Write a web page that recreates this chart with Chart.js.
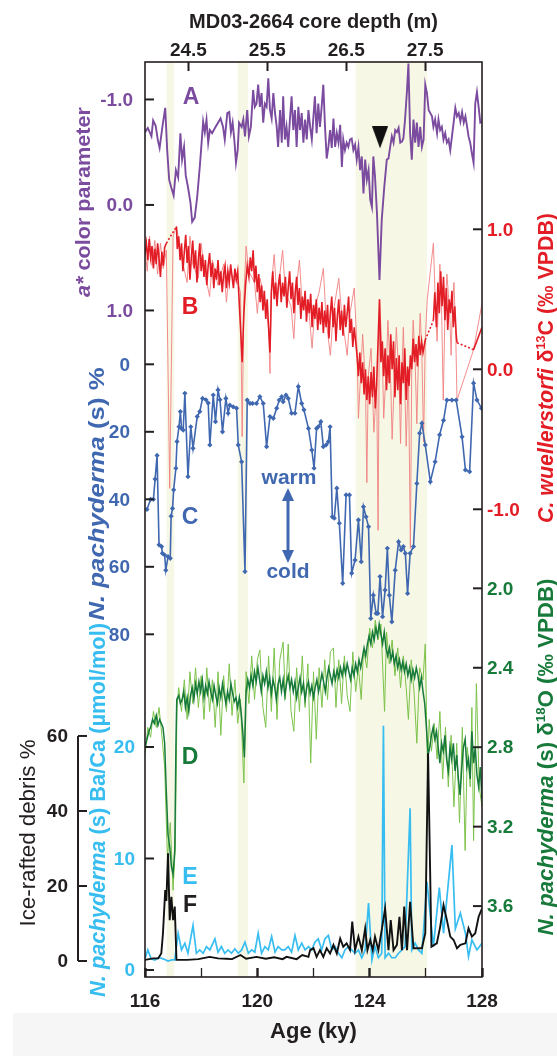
<!DOCTYPE html>
<html>
<head>
<meta charset="utf-8">
<script src="https://cdn.jsdelivr.net/npm/chart.js@4.4.1/dist/chart.umd.min.js"></script>
<style>
  html, body { margin: 0; padding: 0; background: #fff; }
  #wrap { width: 557px; height: 1056px; }
</style>
</head>
<body>
<div id="wrap"><canvas id="chart" width="557" height="1056"></canvas></div>
<script>
// ---- data: [age (ky), value] ----
const ageTicks = [116, 118, 120, 122, 124, 126, 128];
const depthTicks = [24.5, 25.5, 26.5, 27.5];
const bands = [[116.77, 117.04], [119.30, 119.66], [123.50, 126.04]];

// A: a* colour parameter
const colorA = [[116.00,-0.69],[116.10,-0.73],[116.23,-0.65],[116.29,-0.80],[116.38,-0.75],[116.46,-0.61],[116.52,-0.54],[116.62,-0.74],[116.72,-0.92],[116.79,-0.52],[116.86,-0.24],[116.94,-0.16],[117.02,-0.09],[117.10,-0.33],[117.18,-0.26],[117.26,-0.68],[117.32,-0.43],[117.39,-0.55],[117.45,-0.28],[117.53,-0.17],[117.62,-0.02],[117.68,0.16],[117.77,0.12],[117.86,-0.08],[117.95,-0.36],[118.01,-0.57],[118.07,-0.79],[118.13,-0.69],[118.19,-0.81],[118.25,-0.59],[118.31,-0.71],[118.39,-0.68],[118.49,-0.73],[118.60,-0.78],[118.69,-0.82],[118.78,-0.74],[118.84,-0.62],[118.93,-0.87],[119.00,-0.88],[119.06,-0.69],[119.12,-0.78],[119.18,-0.62],[119.24,-0.40],[119.30,-0.52],[119.35,-0.78],[119.44,-0.74],[119.50,-0.81],[119.56,-0.65],[119.64,-0.90],[119.70,-0.65],[119.77,-0.74],[119.85,-1.09],[119.91,-0.93],[119.97,-0.96],[120.03,-1.14],[120.09,-0.93],[120.15,-1.06],[120.21,-0.78],[120.27,-0.96],[120.33,-0.93],[120.39,-1.20],[120.45,-0.90],[120.51,-0.82],[120.57,-1.06],[120.63,-0.87],[120.69,-0.74],[120.74,-0.55],[120.81,-0.90],[120.87,-0.59],[120.92,-1.03],[120.98,-0.62],[121.04,-0.74],[121.10,-0.55],[121.16,-0.81],[121.22,-1.03],[121.28,-0.71],[121.34,-0.90],[121.40,-0.55],[121.46,-0.93],[121.52,-0.71],[121.58,-0.87],[121.64,-0.59],[121.70,-0.81],[121.76,-0.62],[121.82,-0.90],[121.88,-0.74],[121.94,-0.62],[121.99,-0.81],[122.05,-1.03],[122.11,-0.68],[122.17,-0.96],[122.23,-0.74],[122.29,-0.93],[122.35,-1.14],[122.41,-0.74],[122.47,-0.44],[122.53,-0.55],[122.59,-0.71],[122.65,-0.54],[122.71,-0.82],[122.77,-0.55],[122.83,-0.68],[122.89,-0.59],[122.95,-0.76],[123.01,-0.36],[123.06,-0.62],[123.12,-0.52],[123.18,-0.59],[123.24,-0.55],[123.30,-0.62],[123.36,-0.63],[123.42,-0.52],[123.48,-0.57],[123.54,-0.43],[123.60,-0.55],[123.66,-0.33],[123.72,-0.46],[123.78,-0.11],[123.84,-0.43],[123.90,-0.24],[123.96,-0.33],[124.02,-0.05],[124.08,0.02],[124.13,-0.46],[124.19,-0.27],[124.26,0.08],[124.35,0.71],[124.43,0.14],[124.52,-0.17],[124.61,-0.43],[124.67,-0.44],[124.73,-0.55],[124.79,-0.65],[124.85,-0.59],[124.91,-0.71],[124.97,-0.69],[125.03,-0.73],[125.09,-0.59],[125.15,-0.60],[125.20,-0.63],[125.26,-0.81],[125.33,-1.09],[125.38,-1.34],[125.44,-0.68],[125.50,-0.43],[125.56,-0.81],[125.62,-0.59],[125.68,-0.78],[125.74,-0.55],[125.80,-0.74],[125.86,-0.55],[125.92,-0.62],[125.98,-1.14],[126.04,-1.06],[126.10,-0.90],[126.16,-0.87],[126.22,-0.84],[126.27,-0.74],[126.33,-0.81],[126.40,-0.68],[126.45,-0.81],[126.51,-0.71],[126.57,-0.74],[126.63,-0.62],[126.69,-0.68],[126.75,-0.59],[126.81,-0.62],[126.87,-0.52],[126.93,-0.65],[126.99,-0.78],[127.05,-0.92],[127.11,-0.84],[127.17,-0.87],[127.23,-0.79],[127.29,-0.88],[127.35,-0.78],[127.41,-0.84],[127.47,-0.74],[127.52,-0.65],[127.58,-0.59],[127.64,-0.49],[127.70,-0.40],[127.76,-0.96],[127.82,-1.07],[127.88,-0.93],[127.94,-0.78],[128.00,-0.79]];
const markerA = [[124.37,-0.64]];

// B: C. wuellerstorfi d13C (smoothed trace, raw trace, dotted gap links)
const d13cMain = [[116.00,0.82],[116.05,0.90],[116.10,0.78],[116.15,0.93],[116.20,0.80],[116.25,0.88],[116.30,0.72],[116.35,0.86],[116.40,0.75],[116.45,0.90],[116.50,0.79],[116.55,0.66],[116.60,0.84],[116.65,0.74],[116.70,0.87],[116.76,0.90],[116.90,null],
[117.12,1.02],[117.15,0.86],[117.20,0.95],[117.25,0.78],[117.30,0.90],[117.35,0.70],[117.40,0.84],[117.45,0.96],[117.50,0.76],[117.55,0.88],[117.60,0.64],[117.65,0.80],[117.70,0.92],[117.75,0.72],[117.80,0.85],[117.85,0.62],[117.90,0.78],[117.95,0.90],[118.00,0.70],[118.05,0.82],[118.10,0.66],[118.15,0.78],[118.20,0.60],[118.25,0.74],[118.30,0.83],[118.35,0.66],[118.40,0.76],[118.45,0.58],[118.50,0.72],[118.55,0.64],[118.60,0.78],[118.65,0.60],[118.70,0.70],[118.75,0.55],[118.80,0.68],[118.85,0.74],[118.90,0.58],[118.95,0.70],[119.00,0.62],[119.05,0.75],[119.10,0.66],[119.15,0.58],[119.20,0.72],[119.25,0.64],[119.30,0.70],[119.35,0.50],[119.40,0.30],[119.46,0.05],[119.52,0.40],[119.58,0.60],[119.64,0.74],[119.70,0.66],[119.75,0.80],[119.80,0.70],[119.85,0.85],[119.90,0.62],[119.95,0.74],[120.00,0.55],[120.05,0.68],[120.10,0.48],[120.15,0.60],[120.20,0.42],[120.25,0.56],[120.30,0.36],[120.35,0.50],[120.40,0.30],[120.45,0.12],[120.50,0.55],[120.55,0.70],[120.60,0.50],[120.65,0.62],[120.70,0.45],[120.75,0.60],[120.80,0.68],[120.85,0.48],[120.90,0.62],[120.95,0.52],[121.00,0.66],[121.05,0.44],[121.10,0.58],[121.15,0.70],[121.20,0.50],[121.25,0.62],[121.30,0.40],[121.35,0.55],[121.40,0.66],[121.45,0.46],[121.50,0.58],[121.55,0.36],[121.60,0.52],[121.65,0.42],[121.70,0.56],[121.75,0.34],[121.80,0.50],[121.85,0.40],[121.90,0.54],[121.95,0.30],[122.00,0.46],[122.05,0.36],[122.10,0.50],[122.15,0.28],[122.20,0.44],[122.25,0.32],[122.30,0.48],[122.35,0.26],[122.40,0.42],[122.45,0.30],[122.50,0.46],[122.55,0.22],[122.60,0.40],[122.65,0.52],[122.70,0.30],[122.75,0.44],[122.80,0.20],[122.85,0.38],[122.90,0.50],[122.95,0.28],[123.00,0.42],[123.05,0.24],[123.10,0.46],[123.15,0.30],[123.20,0.40],[123.25,0.52],[123.30,0.26],[123.35,0.36],[123.40,0.16],[123.45,0.30],[123.50,0.20],[123.55,0.10],[123.60,-0.05],[123.65,0.12],[123.70,-0.10],[123.75,0.05],[123.80,-0.18],[123.85,0.00],[123.90,-0.22],[123.95,-0.05],[124.00,-0.25],[124.05,-0.02],[124.10,-0.20],[124.15,0.02],[124.20,-0.28],[124.25,-0.10],[124.35,0.50],[124.40,0.05],[124.45,0.20],[124.50,-0.05],[124.55,0.15],[124.60,-0.15],[124.65,0.10],[124.70,-0.10],[124.75,0.25],[124.80,0.00],[124.85,0.20],[124.90,-0.20],[124.95,0.08],[125.00,-0.15],[125.05,0.10],[125.10,-0.25],[125.15,0.05],[125.20,-0.10],[125.25,0.15],[125.30,-0.22],[125.35,0.02],[125.40,-0.12],[125.45,0.10],[125.50,0.00],[125.55,0.22],[125.60,0.05],[125.65,0.18],[125.70,0.02],[125.75,0.24],[125.80,0.10],[125.85,0.20],[125.90,0.12],[125.98,0.21],[126.10,null],
[126.27,0.35],[126.32,0.55],[126.38,0.30],[126.43,0.62],[126.48,0.40],[126.53,0.70],[126.58,0.45],[126.63,0.66],[126.68,0.35],[126.73,0.58],[126.78,0.28],[126.83,0.50],[126.88,0.40],[126.93,0.56],[126.98,0.30],[127.03,0.45],[127.08,0.25],[127.11,0.19],[127.40,null],
[127.70,0.14],[128.00,0.30]];
const d13cRaw = [[116.00,0.86],[116.08,0.70],[116.16,0.95],[116.25,0.74],[116.35,0.92],[116.45,0.68],[116.55,0.90],[116.65,0.72],[116.76,0.85],[116.88,-0.85],[117.00,0.95],[117.12,1.02],[117.30,0.80],[117.50,0.62],[117.60,0.95],[117.70,0.75],[117.90,0.65],[118.00,0.90],[118.10,0.72],[118.30,0.52],[118.40,0.78],[118.60,0.60],[118.80,0.75],[118.90,0.48],[119.00,0.70],[119.30,0.62],[119.40,0.55],[119.46,-0.48],[119.52,0.50],[119.60,0.88],[119.70,0.70],[119.90,0.62],[120.00,0.40],[120.10,0.65],[120.30,0.45],[120.40,0.30],[120.45,-0.03],[120.50,0.60],[120.60,0.82],[120.70,0.50],[120.90,0.85],[121.00,0.55],[121.20,0.45],[121.30,0.22],[121.40,0.60],[121.50,0.78],[121.60,0.45],[121.80,0.50],[121.95,0.15],[122.05,0.45],[122.20,0.55],[122.35,0.72],[122.45,0.35],[122.60,0.10],[122.70,0.40],[122.90,0.65],[123.00,0.40],[123.20,0.10],[123.30,0.40],[123.45,0.58],[123.55,0.15],[123.60,-0.35],[123.70,0.05],[123.75,0.25],[123.85,-0.10],[123.90,-0.81],[123.95,-0.05],[124.05,0.15],[124.15,-0.45],[124.25,-0.10],[124.30,-1.15],[124.35,0.50],[124.45,0.10],[124.50,-0.35],[124.60,0.05],[124.65,0.35],[124.75,-0.10],[124.80,-0.50],[124.90,0.05],[124.95,0.30],[125.05,-0.10],[125.10,-0.53],[125.15,0.00],[125.20,0.30],[125.25,-0.10],[125.30,-0.55],[125.38,0.00],[125.45,-1.28],[125.50,0.05],[125.55,0.35],[125.62,0.05],[125.68,-0.39],[125.74,0.10],[125.80,0.40],[125.86,0.10],[125.92,-0.52],[125.98,0.21],[126.05,0.50],[126.27,0.90],[126.35,0.40],[126.40,0.20],[126.50,0.75],[126.56,0.45],[126.62,-0.22],[126.68,0.40],[126.75,0.68],[126.85,0.40],[126.90,0.10],[126.95,0.45],[127.00,0.62],[127.06,0.30],[127.11,-0.22],[127.70,0.14],[128.00,0.47]];
const d13cLinks = [[116.76,0.90],[117.12,1.02],[117.20,null],[125.98,0.21],[126.27,0.35],[126.40,null],[127.11,0.19],[127.70,0.14]];

// C: N. pachyderma (s) %
const pachyPct = [[116.07,43],[116.20,40],[116.30,40],[116.36,34],[116.43,27],[116.50,53.5],[116.59,54],[116.62,56],[116.70,56.5],[116.74,61],[116.82,57],[116.90,57.5],[116.93,45],[116.98,42.7],[117.02,37.2],[117.10,30.8],[117.14,22.9],[117.21,18.5],[117.26,14],[117.30,19],[117.36,19.5],[117.42,8.6],[117.53,33.3],[117.63,18.5],[117.71,24.9],[117.86,15.5],[117.95,14],[118.05,10.1],[118.17,10.5],[118.25,11.5],[118.31,23.9],[118.43,9.1],[118.51,17],[118.60,7.6],[118.67,10.5],[118.76,20],[118.88,10.1],[118.96,14.5],[119.02,12.1],[119.14,12.6],[119.26,13],[119.32,23.9],[119.44,28.9],[119.56,61.4],[119.64,10.6],[119.74,11.6],[119.83,11.6],[119.97,11.6],[120.09,9.6],[120.21,11.6],[120.33,24.4],[120.45,15.5],[120.57,16],[120.69,13],[120.78,10.6],[120.87,9.6],[120.92,11.1],[121.02,9.1],[121.10,10.1],[121.22,14.5],[121.34,14.5],[121.46,6.6],[121.58,11.6],[121.66,13.5],[121.82,19],[121.94,25.4],[122.02,30.8],[122.11,19],[122.17,18.5],[122.26,17],[122.35,24.4],[122.45,23.9],[122.53,22.9],[122.59,18.5],[122.67,45.2],[122.74,45.6],[122.83,36.7],[122.92,47.1],[123.04,64.9],[123.16,38.7],[123.28,38.7],[123.36,61.9],[123.48,58],[123.60,46.1],[123.70,58.5],[123.78,42.2],[123.87,45.2],[123.96,48.1],[124.04,75.3],[124.13,68.4],[124.23,73.8],[124.29,73.8],[124.37,62.9],[124.46,74.8],[124.55,66.9],[124.63,54.5],[124.70,68.4],[124.79,76.3],[124.91,61],[125.03,52.6],[125.12,55],[125.20,54],[125.27,56],[125.35,67.9],[125.44,56],[125.56,54],[125.68,35.3],[125.78,20.4],[125.86,17.5],[125.98,23.9],[126.16,34.8],[126.33,28.9],[126.49,20.9],[126.63,16.6],[126.75,10.6],[126.93,10.6],[127.08,10.6],[127.29,21.5],[127.41,31.3],[127.56,31.8],[127.70,5.6],[127.82,10.6],[127.98,13]];

// D: N. pachyderma (s) d18O (smoothed and raw)
const d18oMain = [[116.00,2.80],[116.07,2.76],[116.14,2.72],[116.20,2.70],[116.27,2.66],[116.33,2.68],[116.40,2.64],[116.46,2.69],[116.52,2.66],[116.58,2.68],[116.64,2.70],[116.70,2.78],[116.76,3.03],[116.82,3.24],[116.88,3.30],[116.94,3.40],[117.00,3.44],[117.06,3.32],[117.10,2.80],[117.13,2.56],[117.20,2.54],[117.26,2.58],[117.32,2.56],[117.38,2.52],[117.44,2.60],[117.50,2.55],[117.56,2.62],[117.62,2.54],[117.68,2.50],[117.74,2.56],[117.80,2.48],[117.86,2.53],[117.92,2.47],[117.98,2.52],[118.04,2.46],[118.10,2.55],[118.16,2.49],[118.22,2.53],[118.28,2.47],[118.34,2.52],[118.40,2.56],[118.46,2.49],[118.52,2.54],[118.58,2.58],[118.64,2.50],[118.70,2.55],[118.76,2.48],[118.82,2.53],[118.88,2.58],[118.94,2.52],[119.00,2.56],[119.06,2.48],[119.12,2.53],[119.18,2.57],[119.24,2.55],[119.30,2.60],[119.36,2.55],[119.42,2.62],[119.48,2.72],[119.54,2.85],[119.60,2.52],[119.66,2.46],[119.72,2.50],[119.78,2.44],[119.84,2.49],[119.90,2.42],[119.96,2.47],[120.02,2.40],[120.08,2.46],[120.14,2.52],[120.20,2.44],[120.26,2.48],[120.32,2.42],[120.38,2.50],[120.44,2.45],[120.50,2.53],[120.56,2.46],[120.62,2.50],[120.68,2.56],[120.74,2.48],[120.80,2.45],[120.86,2.52],[120.92,2.46],[120.98,2.54],[121.04,2.48],[121.10,2.44],[121.16,2.50],[121.22,2.46],[121.28,2.52],[121.34,2.47],[121.40,2.55],[121.46,2.50],[121.52,2.45],[121.58,2.52],[121.64,2.48],[121.70,2.56],[121.76,2.50],[121.82,2.47],[121.88,2.53],[121.94,2.49],[122.00,2.55],[122.06,2.50],[122.12,2.46],[122.18,2.52],[122.24,2.48],[122.30,2.43],[122.36,2.47],[122.42,2.52],[122.48,2.45],[122.54,2.40],[122.60,2.44],[122.66,2.48],[122.72,2.42],[122.78,2.46],[122.84,2.41],[122.90,2.45],[122.96,2.40],[123.02,2.44],[123.08,2.39],[123.14,2.43],[123.20,2.38],[123.26,2.42],[123.32,2.46],[123.38,2.40],[123.44,2.44],[123.50,2.38],[123.56,2.42],[123.62,2.36],[123.68,2.40],[123.74,2.35],[123.80,2.30],[123.86,2.34],[123.92,2.28],[123.98,2.24],[124.04,2.28],[124.10,2.22],[124.16,2.26],[124.22,2.20],[124.28,2.24],[124.34,2.18],[124.40,2.23],[124.46,2.28],[124.52,2.22],[124.58,2.30],[124.64,2.34],[124.70,2.30],[124.76,2.36],[124.82,2.32],[124.88,2.38],[124.94,2.34],[125.00,2.40],[125.06,2.36],[125.12,2.41],[125.18,2.37],[125.24,2.42],[125.30,2.38],[125.36,2.44],[125.42,2.40],[125.48,2.46],[125.54,2.41],[125.60,2.45],[125.66,2.40],[125.72,2.44],[125.78,2.50],[125.84,2.45],[125.90,2.52],[125.96,2.58],[126.02,2.70],[126.08,2.84],[126.14,2.80],[126.20,2.74],[126.26,2.70],[126.32,2.76],[126.38,2.72],[126.44,2.80],[126.50,2.88],[126.56,2.78],[126.62,2.82],[126.68,2.74],[126.74,2.86],[126.80,2.92],[126.86,2.80],[126.92,2.86],[126.98,2.78],[127.04,2.92],[127.10,2.84],[127.16,2.96],[127.22,3.04],[127.28,2.90],[127.34,2.80],[127.40,2.76],[127.46,2.90],[127.52,2.86],[127.58,2.96],[127.64,2.72],[127.70,2.88],[127.76,2.80],[127.82,2.94],[127.88,3.00],[127.94,2.90],[128.00,3.06]];
const d18oRaw = [[116.00,2.84],[116.10,2.70],[116.20,2.75],[116.30,2.62],[116.40,2.70],[116.50,2.60],[116.60,2.74],[116.70,2.90],[116.80,3.36],[116.90,3.18],[117.00,3.52],[117.08,3.30],[117.14,2.60],[117.20,2.50],[117.30,2.62],[117.40,2.46],[117.50,2.66],[117.60,2.42],[117.70,2.58],[117.80,2.40],[117.90,2.60],[118.00,2.44],[118.10,2.66],[118.20,2.40],[118.30,2.62],[118.40,2.46],[118.50,2.70],[118.60,2.42],[118.70,2.74],[118.80,2.44],[118.90,2.62],[119.00,2.38],[119.10,2.64],[119.20,2.46],[119.30,2.68],[119.40,2.56],[119.52,2.98],[119.60,2.42],[119.70,2.58],[119.80,2.34],[119.90,2.56],[120.00,2.36],[120.09,2.31],[120.20,2.60],[120.30,2.70],[120.40,2.34],[120.50,2.62],[120.60,2.30],[120.70,2.66],[120.80,2.36],[120.92,2.27],[121.00,2.56],[121.10,2.28],[121.20,2.62],[121.30,2.72],[121.40,2.40],[121.50,2.62],[121.60,2.34],[121.70,2.60],[121.80,2.38],[121.90,2.88],[122.00,2.42],[122.10,2.76],[122.20,2.40],[122.30,2.60],[122.40,2.36],[122.50,2.56],[122.60,2.32],[122.71,2.30],[122.80,2.60],[122.90,2.36],[123.00,2.58],[123.10,2.34],[123.20,2.54],[123.30,2.62],[123.40,2.32],[123.50,2.52],[123.60,2.40],[123.70,2.56],[123.78,2.31],[123.90,2.40],[124.00,2.20],[124.10,2.30],[124.20,2.16],[124.30,2.26],[124.40,2.18],[124.53,2.62],[124.60,2.22],[124.70,2.38],[124.80,2.26],[124.90,2.44],[125.00,2.30],[125.10,2.50],[125.20,2.34],[125.30,2.50],[125.38,2.66],[125.48,2.36],[125.58,2.52],[125.68,2.78],[125.78,2.40],[125.90,2.46],[125.98,2.28],[126.06,2.92],[126.12,2.66],[126.20,2.82],[126.30,2.68],[126.40,2.86],[126.50,2.62],[126.60,2.96],[126.70,2.70],[126.80,3.00],[126.90,2.74],[127.00,3.10],[127.10,2.78],[127.20,3.18],[127.30,2.70],[127.40,3.32],[127.48,2.80],[127.58,3.00],[127.64,2.60],[127.70,3.27],[127.80,2.48],[127.90,3.00],[128.00,3.10]];

// E: N. pachyderma (s) Ba/Ca (umol/mol)
const baCa = [[116.00,1.0],[116.10,1.8],[116.22,1.0],[116.35,0.9],[116.50,1.1],[116.65,1.0],[116.82,0.8],[116.95,0.9],[117.06,0.9],[117.18,3.3],[117.30,1.8],[117.42,2.4],[117.53,1.5],[117.71,4.0],[117.83,1.5],[117.95,1.8],[118.07,1.5],[118.19,2.1],[118.31,1.8],[118.49,2.8],[118.60,1.6],[118.72,2.1],[118.84,1.5],[118.96,1.8],[119.08,1.5],[119.20,1.9],[119.32,1.5],[119.44,1.8],[119.56,2.5],[119.68,1.5],[119.80,1.8],[119.91,1.6],[120.03,3.3],[120.15,1.5],[120.27,2.1],[120.39,1.8],[120.51,3.0],[120.63,1.6],[120.74,2.1],[120.87,1.8],[120.98,1.8],[121.10,2.1],[121.22,1.6],[121.34,3.1],[121.46,1.8],[121.58,2.4],[121.70,1.8],[121.82,2.1],[121.94,1.8],[122.05,2.5],[122.17,2.8],[122.29,1.8],[122.41,2.8],[122.53,3.1],[122.65,1.8],[122.77,2.1],[122.89,1.5],[123.01,1.1],[123.12,1.8],[123.24,2.1],[123.36,1.8],[123.48,1.5],[123.60,1.8],[123.72,1.1],[123.84,1.8],[123.96,6.0],[124.08,0.9],[124.19,2.1],[124.31,1.1],[124.43,1.5],[124.49,21.9],[124.55,1.1],[124.67,1.5],[124.79,1.1],[124.91,1.1],[125.03,1.5],[125.15,1.8],[125.26,2.1],[125.44,14.5],[125.50,1.8],[125.62,2.4],[125.74,1.8],[125.86,1.5],[126.04,7.9],[126.27,2.1],[126.48,7.4],[126.63,3.3],[126.93,11.2],[127.05,3.7],[127.23,5.1],[127.41,3.3],[127.52,1.2],[127.64,2.7],[127.82,1.8],[128.00,2.4]];

// F: ice-rafted debris %
const ird = [[116.00,0.3],[116.29,0.7],[116.47,0.7],[116.58,2.0],[116.64,7.4],[116.72,18.9],[116.76,16],[116.82,28.7],[116.88,10.9],[116.94,17.1],[117.00,10.9],[117.06,14.5],[117.12,0.3],[117.50,0.3],[117.90,0.5],[118.30,1.1],[118.60,0.7],[118.90,0.6],[119.10,0.5],[119.40,1.6],[119.60,0.6],[119.97,1.1],[120.30,0.6],[120.60,1.0],[120.90,0.5],[121.04,1.1],[121.40,0.5],[121.60,1.6],[121.82,1.1],[121.88,2.9],[122.00,3.4],[122.11,1.1],[122.23,2.9],[122.35,1.1],[122.47,3.4],[122.59,2.0],[122.71,4.3],[122.83,2.0],[122.95,6.0],[123.06,3.8],[123.18,4.7],[123.30,2.9],[123.38,10.5],[123.48,2.9],[123.60,6.5],[123.72,2.9],[123.84,8.7],[123.92,2.9],[124.02,5.6],[124.11,2.9],[124.19,6.5],[124.31,2.9],[124.43,8.3],[124.55,14.0],[124.67,2.9],[124.75,10.9],[124.85,2.9],[124.97,4.3],[125.06,11.8],[125.15,2.9],[125.23,14.5],[125.33,2.9],[125.44,15.8],[125.56,3.4],[125.68,3.4],[125.86,3.4],[125.98,7.4],[126.08,55.4],[126.20,3.8],[126.30,4.3],[126.39,4.7],[126.51,9.1],[126.63,14.9],[126.75,10.9],[126.87,6.5],[126.99,5.6],[127.11,3.4],[127.23,4.3],[127.41,4.7],[127.52,8.7],[127.64,6.5],[127.76,7.4],[127.88,11.8],[128.00,14.0]];

const aTicks = [-1, 0, 1];
const bTicks = [1, 0, -1];
const cTicks = [0, 20, 40, 60, 80];
const dTicks = [2.0, 2.4, 2.8, 3.2, 3.6];
const eTicks = [0, 10, 20];
const fTicks = [0, 20, 40, 60];

// ---- styling ----
const FONT = '"Liberation Sans", Arial, sans-serif';
const INK = '#231f20';
const PURPLE = '#7a4b9e', RED = '#e31d25', RED_LT = '#f08080', BLUE = '#4068b0';
const GREEN = '#177a3a', GREEN_LT = '#7cc24a', CYAN = '#37bdf0';

const pts = arr => arr.map(([x, y]) => ({ x, y }));

const tri = document.createElement('canvas');
tri.width = 16; tri.height = 22;
(() => {
    const t = tri.getContext('2d');
    t.fillStyle = '#111';
    t.beginPath(); t.moveTo(0, 0); t.lineTo(16, 0); t.lineTo(8, 22); t.closePath(); t.fill();
})();

function line(data, yAxisID, color, width, order, extra) {
    return Object.assign({
        data: pts(data), yAxisID, xAxisID: 'x', borderColor: color, backgroundColor: color,
        borderWidth: width, pointRadius: 0, tension: 0, spanGaps: false, order
    }, extra || {});
}

function vText(ctx, parts, xBase, yCenter, length) {
    ctx.save();
    ctx.translate(xBase, yCenter);
    ctx.rotate(-Math.PI / 2);
    let w = 0;
    parts.forEach(p => { ctx.font = p.font; p.w = ctx.measureText(p.t).width; w += p.w; });
    ctx.scale(length ? length / w : 1, 1);
    let cx = -w / 2;
    ctx.textAlign = 'left';
    ctx.textBaseline = 'alphabetic';
    parts.forEach(p => {
        ctx.font = p.font; ctx.fillStyle = p.color;
        ctx.fillText(p.t, cx, p.dy || 0);
        cx += p.w;
    });
    ctx.restore();
}

function sideTicks(ctx, chart, scale, vals, side, color, fmt, labelX) {
    const a = chart.chartArea;
    ctx.save();
    ctx.strokeStyle = INK; ctx.lineWidth = 2;
    ctx.fillStyle = color;
    ctx.font = 'bold 19px ' + FONT;
    ctx.textBaseline = 'middle';
    ctx.textAlign = side === 'left' ? 'right' : 'left';
    vals.forEach(v => {
        const y = scale.getPixelForValue(v);
        ctx.beginPath();
        if (side === 'left') { ctx.moveTo(a.left, y); ctx.lineTo(a.left + 9, y); }
        else { ctx.moveTo(a.right - 9, y); ctx.lineTo(a.right, y); }
        ctx.stroke();
        ctx.fillText(fmt(v), labelX, y + 1);
    });
    ctx.restore();
}

const decor = {
    id: 'decor',
    beforeDraw(chart) {
        const { ctx, chartArea: a, scales: { x } } = chart;
        ctx.save();
        ctx.fillStyle = '#f6f6f6';
        ctx.fillRect(13, 1013, 544, 43);
        ctx.fillStyle = '#f6f7e5';
        bands.forEach(([s, e]) => {
            const x0 = x.getPixelForValue(s), x1 = x.getPixelForValue(e);
            ctx.fillRect(x0, a.top, x1 - x0, a.bottom - a.top);
        });
        ctx.restore();
    },
    afterDraw(chart) {
        const { ctx, chartArea: a, scales: s } = chart;
        ctx.save();
        ctx.strokeStyle = INK; ctx.lineWidth = 1.6;
        ctx.strokeRect(a.left, a.top, a.right - a.left, a.bottom - a.top);
        ctx.restore();

        const f1 = v => v.toFixed(1), f0 = v => String(v);
        sideTicks(ctx, chart, s.yA, aTicks, 'left', PURPLE, f1, 133);
        sideTicks(ctx, chart, s.yC, cTicks, 'left', BLUE, f0, 130);
        sideTicks(ctx, chart, s.yE, eTicks, 'left', CYAN, f0, 135);
        sideTicks(ctx, chart, s.yB, bTicks, 'right', RED, f1, 487);
        sideTicks(ctx, chart, s.yD, dTicks, 'right', GREEN, f1, 487);

        // ice-rafted debris bracket axis
        const yF = s.yF, bx = 78;
        ctx.save();
        ctx.strokeStyle = INK; ctx.lineWidth = 2;
        ctx.beginPath();
        ctx.moveTo(bx, yF.getPixelForValue(0));
        ctx.lineTo(bx, yF.getPixelForValue(60));
        ctx.stroke();
        ctx.fillStyle = INK; ctx.font = 'bold 19px ' + FONT;
        ctx.textAlign = 'right'; ctx.textBaseline = 'middle';
        fTicks.forEach(v => {
            const y = yF.getPixelForValue(v);
            ctx.beginPath(); ctx.moveTo(bx, y); ctx.lineTo(bx + 9, y); ctx.stroke();
            ctx.fillText(String(v), 68, y + 1);
        });
        ctx.restore();

        // axis titles
        const b22 = 'bold 22px ' + FONT, i22 = 'italic bold 22px ' + FONT, sup = 'bold 13px ' + FONT;
        vText(ctx, [{ t: 'a*', font: 'italic bold 21px ' + FONT, color: PURPLE },
                    { t: ' color parameter', font: 'bold 21px ' + FONT, color: PURPLE }], 90, 202, 190);
        vText(ctx, [{ t: 'N. pachyderma', font: i22, color: BLUE },
                    { t: ' (s) %', font: b22, color: BLUE }], 104, 494, 253);
        vText(ctx, [{ t: 'N. pachyderma', font: i22, color: CYAN },
                    { t: ' (s) Ba/Ca (\u00b5mol/mol)', font: b22, color: CYAN }], 105, 810, 374);
        vText(ctx, [{ t: 'Ice-rafted debris %', font: '22px ' + FONT, color: INK }], 35, 833, 187);
        vText(ctx, [{ t: 'C. wuellerstorfi', font: i22, color: RED },
                    { t: ' \u03b4', font: b22, color: RED },
                    { t: '13', font: sup, color: RED, dy: -8 },
                    { t: 'C (\u2030 VPDB)', font: b22, color: RED }], 553, 368, 310);
        vText(ctx, [{ t: 'N. pachyderma', font: i22, color: GREEN },
                    { t: ' (s) \u03b4', font: b22, color: GREEN },
                    { t: '18', font: sup, color: GREEN, dy: -8 },
                    { t: 'O (\u2030 VPDB)', font: b22, color: GREEN }], 553, 757, 357);

        // panel letters
        ctx.save();
        ctx.font = 'bold 23px ' + FONT;
        ctx.textAlign = 'center'; ctx.textBaseline = 'middle';
        [['A', PURPLE, 191, 97], ['B', RED, 190, 307], ['C', BLUE, 190, 517],
         ['D', GREEN, 190, 757], ['E', CYAN, 190, 877], ['F', INK, 190, 905]].forEach(([t, c, x, y]) => {
            ctx.fillStyle = c; ctx.fillText(t, x, y + 1);
        });

        // warm / cold arrow
        ctx.fillStyle = BLUE; ctx.strokeStyle = BLUE;
        ctx.font = 'bold 21px ' + FONT;
        ctx.fillText('warm', 289, 478);
        ctx.fillText('cold', 288, 572);
        const ax = 288;
        ctx.lineWidth = 3;
        ctx.beginPath(); ctx.moveTo(ax, 498); ctx.lineTo(ax, 553); ctx.stroke();
        ctx.beginPath(); ctx.moveTo(ax, 488); ctx.lineTo(ax - 6, 501); ctx.lineTo(ax + 6, 501); ctx.closePath(); ctx.fill();
        ctx.beginPath(); ctx.moveTo(ax, 563); ctx.lineTo(ax - 6, 550); ctx.lineTo(ax + 6, 550); ctx.closePath(); ctx.fill();
        ctx.restore();
    }
};

const hidden = (min, max, reverse) => ({ type: 'linear', display: false, min, max, reverse: !!reverse });

new Chart(document.getElementById('chart'), {
    type: 'line',
    data: {
        datasets: [
            line(markerA, 'yA', '#111', 0, 0, { showLine: false, pointRadius: 10, pointStyle: tri }),
            line(pachyPct, 'yC', BLUE, 1.6, 1, { pointRadius: 2.6, pointStyle: 'rectRot', pointBorderWidth: 0, pointBackgroundColor: BLUE }),
            line(colorA, 'yA', PURPLE, 1.9, 2),
            line(d13cLinks, 'yB', RED, 1.6, 3, { borderDash: [2, 2] }),
            line(d13cMain, 'yB', RED, 1.6, 4),
            line(d13cRaw, 'yB', RED_LT, 0.9, 5),
            line(ird, 'yF', '#111', 1.9, 6),
            line(baCa, 'yE', CYAN, 1.7, 7),
            line(d18oMain, 'yD', GREEN, 1.5, 8),
            line(d18oRaw, 'yD', GREEN_LT, 1.0, 9)
        ]
    },
    options: {
        responsive: false,
        animation: false,
        events: [],
        layout: { padding: { left: 145, right: 75, top: 0, bottom: 0 } },
        plugins: { legend: { display: false }, tooltip: { enabled: false } },
        scales: {
            x: {
                type: 'linear', position: 'bottom', min: 116, max: 128,
                afterBuildTicks: sc => { sc.ticks = ageTicks.map(v => ({ value: v })); },
                afterFit: sc => { sc.height = 79; },
                ticks: {
                    callback: v => (v % 4 === 0 ? String(v) : ''),
                    font: { family: FONT, size: 19, weight: 'bold' }, color: INK,
                    padding: 22, maxRotation: 0, autoSkip: false
                },
                grid: {
                    drawOnChartArea: false, drawTicks: true, tickLength: -9, tickColor: INK,
                    tickWidth: c => (c.tick && c.tick.value % 4 === 0 ? 2.4 : 1.3)
                },
                border: { display: false },
                title: {
                    display: true, text: 'Age (ky)', color: INK,
                    font: { family: FONT, size: 22, weight: 'bold' }, padding: { top: 0, bottom: 11 }
                }
            },
            x2: {
                type: 'linear', position: 'top', min: 23.95, max: 28.22,
                afterBuildTicks: sc => { sc.ticks = depthTicks.map(v => ({ value: v })); },
                afterFit: sc => { sc.height = 62; },
                ticks: {
                    callback: v => v.toFixed(1),
                    font: { family: FONT, size: 19, weight: 'bold' }, color: INK,
                    padding: 9, maxRotation: 0, autoSkip: false
                },
                grid: { drawOnChartArea: false, drawTicks: true, tickLength: -9, tickColor: INK, tickWidth: 2 },
                border: { display: false },
                title: {
                    display: true, text: 'MD03-2664 core depth (m)', color: INK,
                    font: { family: FONT, size: 20, weight: 'bold' }, padding: { top: 10, bottom: 0 }
                }
            },
            yA: hidden(-1.355, 7.318, true),
            yB: hidden(-4.341, 2.195),
            yC: hidden(-89.57, 181.54, true),
            yD: hidden(-0.650, 3.957, true),
            yE: hidden(-0.628, 81.43),
            yF: hidden(-4.267, 239.7)
        }
    },
    plugins: [decor]
});
</script>
</body>
</html>
